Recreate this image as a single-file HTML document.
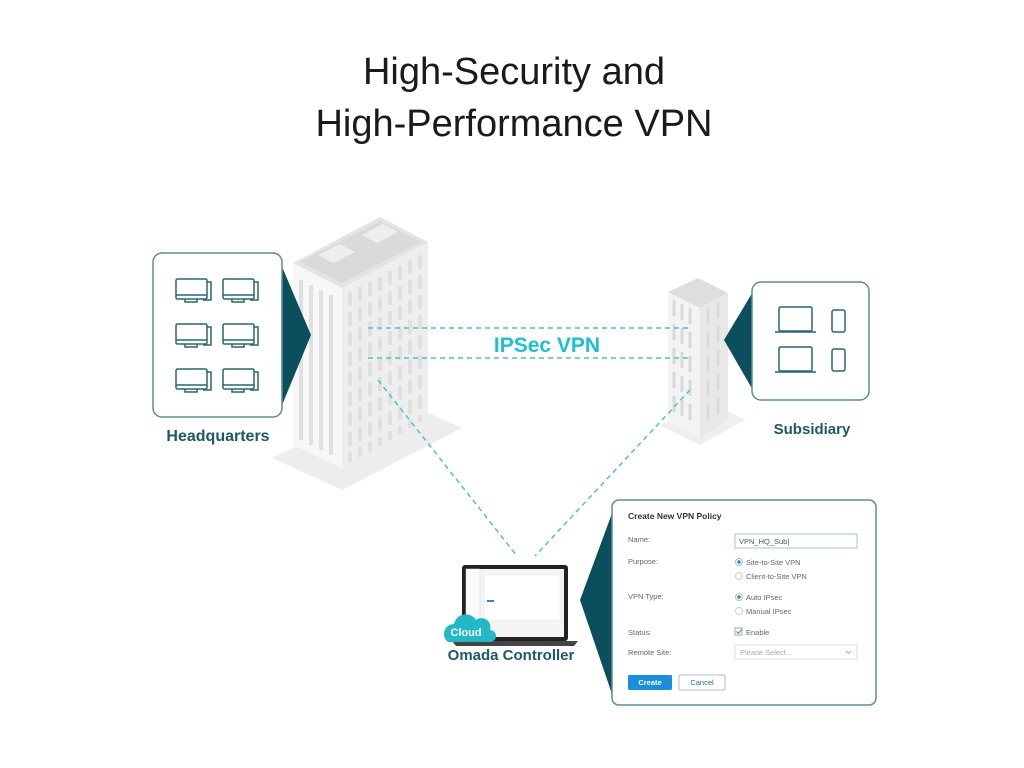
<!DOCTYPE html>
<html><head><meta charset="utf-8"><style>
html,body{margin:0;padding:0;background:#fff;}
svg{display:block;}
text{font-family:"Liberation Sans",sans-serif;}
</style></head><body>
<svg width="1024" height="768" viewBox="0 0 1024 768" xmlns="http://www.w3.org/2000/svg">
<rect width="1024" height="768" fill="#fff"/>
<text x="514" y="84" font-size="38" text-anchor="middle" fill="#1a1a1a">High-Security and</text>
<text x="514" y="136" font-size="38" text-anchor="middle" fill="#1a1a1a">High-Performance VPN</text>

<polygon points="272,458 342,490 462,428 395,398" fill="#ededed"/>
<polygon points="293,263 342,288 342,468 293,445" fill="#f7f7f7"/>
<polygon points="342,288 428,242 428,414 342,468" fill="#eeeeee"/>
<polygon points="293,263 380,217 428,242 342,288" fill="#e4e4e4"/>
<polygon points="300,262 380,221 421,242 342,283" fill="#dadada"/>
<polygon points="318,255 340,244 355,252 333,263" fill="#eeeeee"/>
<polygon points="362,235 383,224 398,232 377,243" fill="#eeeeee"/>
<g fill="#e0e0e0">
<rect x="299" y="280" width="4" height="160"/><rect x="309" y="285" width="4" height="160"/><rect x="319" y="290" width="4" height="160"/><rect x="329" y="295" width="4" height="160"/>
</g>
<g stroke="#e0e0e0" stroke-width="4" stroke-dasharray="14 6">
<line x1="350" y1="292" x2="350" y2="462"/><line x1="360" y1="287" x2="360" y2="457"/><line x1="370" y1="282" x2="370" y2="452"/><line x1="380" y1="277" x2="380" y2="446"/><line x1="390" y1="271" x2="390" y2="440"/><line x1="400" y1="266" x2="400" y2="434"/><line x1="410" y1="260" x2="410" y2="428"/><line x1="420" y1="255" x2="420" y2="422"/>
</g>

<polygon points="280,262 311,335 280,410" fill="#0b4f5c"/>
<rect x="153" y="253" width="129" height="164" rx="9" fill="#fff" stroke="#5f8b95" stroke-width="1.5"/>
<g fill="none" stroke="#2a6672" stroke-width="1.5">
<g id="pc"><rect x="176" y="279" width="31" height="20" rx="1.5"/><line x1="176" y1="295" x2="207" y2="295"/><path d="M207,282 h4 v18 h-8 M185,299 v3 h12 v-3"/></g>
<use href="#pc" x="47"/><use href="#pc" y="45"/><use href="#pc" x="47" y="45"/><use href="#pc" y="90"/><use href="#pc" x="47" y="90"/>
</g>
<text x="218" y="441" font-size="16" font-weight="bold" text-anchor="middle" fill="#1f5866">Headquarters</text>

<polygon points="660,425 700,445 745,420 705,400" fill="#efefef"/>
<polygon points="668,292 700,308 700,438 668,422" fill="#f3f3f3"/>
<polygon points="700,308 728,293 728,420 700,438" fill="#e8e8e8"/>
<polygon points="668,292 698,278 728,293 700,308" fill="#dedede"/>
<g stroke="#dadada" stroke-width="3" stroke-dasharray="16 8">
<line x1="674" y1="300" x2="674" y2="415"/><line x1="682" y1="304" x2="682" y2="420"/><line x1="690" y1="308" x2="690" y2="424"/>
<line x1="708" y1="308" x2="708" y2="420"/><line x1="718" y1="302" x2="718" y2="415"/>
</g>
<polygon points="754,290 724,340 754,392" fill="#0b4f5c"/>
<rect x="752" y="282" width="117" height="118" rx="9" fill="#fff" stroke="#5f8b95" stroke-width="1.5"/>
<g fill="none" stroke="#2a6672" stroke-width="1.5">
<rect x="779" y="307" width="33" height="24" rx="1.5"/><line x1="775" y1="332" x2="816" y2="332"/>
<rect x="779" y="347" width="33" height="24" rx="1.5"/><line x1="775" y1="372" x2="816" y2="372"/>
<rect x="832" y="310" width="13" height="22" rx="2"/><rect x="832" y="349" width="13" height="22" rx="2"/>
</g>
<text x="812" y="434" font-size="15" font-weight="bold" text-anchor="middle" fill="#1f5866">Subsidiary</text>

<g stroke="#4fc1cc" stroke-width="1.5" stroke-dasharray="5 4" fill="none">
<line x1="368" y1="328" x2="690" y2="328"/>
<line x1="368" y1="358" x2="690" y2="358"/>
<line x1="378" y1="380" x2="517" y2="556"/>
<line x1="690" y1="390" x2="535" y2="556"/>
</g>
<text x="547" y="352" font-size="21" font-weight="bold" text-anchor="middle" fill="#1ec0d0">IPSec VPN</text>

<rect x="462" y="565" width="106" height="76" rx="3" fill="#222"/>
<rect x="466" y="569" width="98" height="68" fill="#f4f4f4"/>
<rect x="466" y="569" width="14" height="68" fill="#fafafa" stroke="#ddd" stroke-width="0.5"/>
<rect x="484" y="575" width="76" height="45" fill="#fff" stroke="#e2e2e2" stroke-width="0.5"/>
<rect x="487" y="600" width="7" height="2" fill="#3a7fd0"/>
<path d="M452,641 h126 l-4,5 h-118 z" fill="#444"/>
<path d="M448,642 a10,10 0 0 1 6,-18 a12,12 0 0 1 22,-4 a9,9 0 0 1 14,10 a6,6 0 0 1 0,12 z" fill="#22b8c8"/>
<text x="466" y="636" font-size="11" font-weight="bold" text-anchor="middle" fill="#fff">Cloud</text>
<text x="511" y="660" font-size="15" font-weight="bold" text-anchor="middle" fill="#1f5866">Omada Controller</text>

<polygon points="614,508 580,600 614,700" fill="#0b4f5c"/>
<rect x="612" y="500" width="264" height="205" rx="7" fill="#fff" stroke="#5f8b95" stroke-width="1.5"/>
<g font-size="7.5" fill="#666">
<text x="628" y="519" font-size="8.5" font-weight="bold" fill="#333">Create New VPN Policy</text>
<text x="628" y="542">Name:</text>
<text x="628" y="564">Purpose:</text>
<text x="628" y="599">VPN Type:</text>
<text x="628" y="635">Status:</text>
<text x="628" y="655">Remote Site:</text>
<rect x="735" y="534" width="122" height="14" fill="#fff" stroke="#9cc3dc"/>
<text x="739" y="544" fill="#555">VPN_HQ_Sub|</text>
<circle cx="739" cy="562" r="3.5" fill="#fff" stroke="#bbb"/><circle cx="739" cy="562" r="1.8" fill="#2a86d6"/>
<text x="746" y="565">Site-to-Site VPN</text>
<circle cx="739" cy="576" r="3.5" fill="#fff" stroke="#ccc"/><text x="746" y="579">Client-to-Site VPN</text>
<circle cx="739" cy="597" r="3.5" fill="#fff" stroke="#bbb"/><circle cx="739" cy="597" r="1.8" fill="#2a86d6"/>
<text x="746" y="600">Auto IPsec</text>
<circle cx="739" cy="611" r="3.5" fill="#fff" stroke="#ccc"/><text x="746" y="614">Manual IPsec</text>
<rect x="735" y="628" width="7" height="7" fill="#fff" stroke="#aaa"/><path d="M736.5,631.5 l2,2 l3,-4" stroke="#2a86d6" fill="none"/>
<text x="746" y="635">Enable</text>
<rect x="735" y="645" width="122" height="14" fill="#fff" stroke="#ddd"/>
<text x="740" y="655" fill="#aaa">Please Select...</text>
<path d="M846,651 l2.5,2.5 l2.5,-2.5" stroke="#aaa" fill="none"/>
<rect x="628" y="675" width="44" height="15" rx="1.5" fill="#1a8fdc"/>
<text x="650" y="685" fill="#fff" text-anchor="middle" font-weight="bold">Create</text>
<rect x="679" y="675" width="46" height="15" rx="1.5" fill="#fff" stroke="#bbb"/>
<text x="702" y="685" text-anchor="middle" fill="#2a6a9a">Cancel</text>
</g>
</svg>
</body></html>
